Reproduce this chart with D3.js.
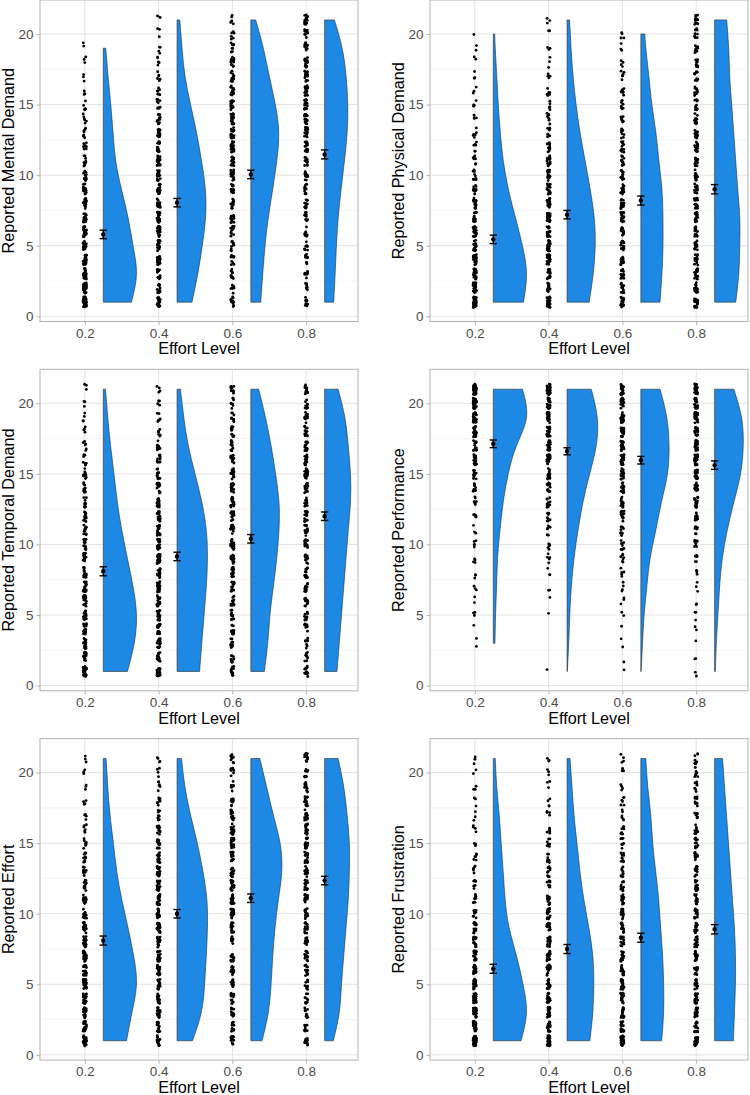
<!DOCTYPE html>
<html><head><meta charset="utf-8">
<script src="https://cdn.jsdelivr.net/npm/d3@7"></script>
<style>body{margin:0;background:#fff}svg{display:block}</style>
</head><body>
<svg id="c" width="750" height="1095"></svg>
<script>
// ---------- categories / ticks ----------
const levels = [0.2, 0.4, 0.6, 0.8];
const ratings = [1,2,3,4,5,6,7,8,9,10,11,12,13,14,15,16,17,18,19,20,21];
const violinGrid = [1,3,5,7,9,11,13,15,17,19,21];
const xTicks = [0.2, 0.4, 0.6, 0.8];
const xTickLabels = ["0.2", "0.4", "0.6", "0.8"];
const yTicks = [0, 5, 10, 15, 20];
const yMinor = [2.5, 7.5, 12.5, 17.5];
const xTitle = "Effort Level";
const yTitles = ["Reported Mental Demand", "Reported Physical Demand", "Reported Temporal Demand",
                 "Reported Performance", "Reported Effort", "Reported Frustration"];

// ---------- counts of ratings 1..21 per effort level ----------
const mentalCounts = [
  [45,28,28,24,22,21,18,16,14,12,9,9,8,6,6,4,3,3,2,0,0],
  [18,14,15,18,20,21,21,21,21,20,18,16,15,12,10,8,6,5,4,3,3],
  [12,8,9,9,10,12,14,15,16,18,20,21,21,20,18,16,14,12,9,6,6],
  [10,8,8,9,9,9,10,12,12,14,15,16,16,18,18,16,16,15,14,10,14]];
const physicalCounts = [
  [42,26,26,24,22,20,16,14,12,9,8,6,6,4,4,3,3,2,2,1,0],
  [27,18,20,21,21,21,20,18,16,15,14,12,9,8,6,6,4,3,3,2,3],
  [22,15,15,16,16,16,16,16,15,15,14,12,10,9,8,8,6,4,3,4,0],
  [24,16,18,18,18,18,18,18,16,16,15,15,14,14,12,12,10,10,10,9,14]];
const temporalCounts = [
  [26,18,20,21,21,21,20,18,16,15,14,12,10,10,9,8,6,4,4,3,3],
  [22,15,16,18,18,20,20,20,21,20,20,18,16,15,12,10,9,8,6,4,4],
  [14,10,10,12,12,14,15,15,16,18,18,18,18,18,16,15,14,12,9,8,9],
  [12,9,9,10,10,12,12,14,14,15,15,16,16,18,18,16,15,14,12,10,14]];
const performanceCounts = [
  [0,0,2,1,3,2,3,3,4,5,3,5,8,9,10,15,18,24,30,33,45],
  [1,0,0,0,1,1,2,3,5,6,7,9,12,14,16,20,21,22,22,22,30],
  [1,1,2,1,2,3,4,5,7,9,10,14,15,18,20,21,21,21,20,18,24],
  [2,2,1,2,3,2,3,4,6,8,9,12,15,16,20,21,21,21,20,20,24]];
const effortCounts = [
  [26,18,20,21,22,21,21,20,18,15,14,12,10,9,8,6,4,4,3,3,3],
  [16,14,16,18,18,18,18,20,20,20,20,18,16,15,14,12,9,8,6,4,4],
  [12,10,12,14,14,14,14,15,15,16,18,20,20,20,20,18,15,12,9,8,9],
  [9,9,9,10,10,12,12,14,14,15,15,16,16,16,16,16,15,14,12,10,14]];
const frustrationCounts = [
  [39,26,26,24,22,20,18,15,14,10,9,8,6,6,4,4,3,3,3,2,3],
  [30,18,20,20,21,20,18,16,15,14,12,10,9,9,8,6,4,4,3,3,3],
  [26,16,18,18,18,18,16,16,15,15,14,12,10,10,9,8,6,6,4,4,4],
  [22,15,15,16,16,15,15,15,15,15,14,14,12,12,10,10,9,9,8,8,9]];

// ---------- violin density (relative) at ratings 1,3,...,21 ----------
const mentalViolin = [
  [28.2,33.2,29.8,24.8,18.2,12.5,9.8,7.5,4.8,2.5,1.0],
  [14.9,20.7,25.2,28.5,28.3,24.5,19.5,13.5,8,5,2.7],
  [9.9,11.9,14.2,17.5,21.9,25.9,27.9,24.5,18.5,12.5,4.9],
  [9.1,10.5,11.8,13.6,16.5,19.8,22.5,23.1,21.5,17.5,9.8]];
const physicalViolin = [
  [30,33,29,22,15,10,7,5,3.5,2,1.0],
  [22,26,28,27,23,18,13,9,6,4,2.5],
  [19,21,22,22,21,18,15,11,8,5,3],
  [21,24,25,25,23,21,19,17,15,14,12]];
const temporalViolin = [
  [21.5,27.5,29.5,26.5,21.5,16.5,12.5,9.5,6.5,4,2],
  [20,22,24,26,27,26,22,16,10,6,3],
  [12,15,17,20,23,25,25,22,18,13,7],
  [11,13,15,17,19,21,23,23,21,18,12]];
const performanceViolin = [
  [1.5,1.7,2.3,3.3,4.3,6.7,10,15,23.3,33.3,29.3],
  [0.3,1.7,2.7,4.3,7,11,16,22.7,29.3,30.3,24.3],
  [0.3,1.7,3.3,6,9.3,15,20.7,26.7,28.3,26,19.3],
  [0.7,1.7,3.3,5,7.7,12.7,19.3,26,28.7,27,19.3]];
const effortViolin = [
  [20.7,25.5,29.5,27,22,16.5,12,9,6,4,2.5],
  [13.7,21.5,24.5,26,27,26.5,23,18,12,7,4],
  [10,15.5,18,19.5,21.5,24.5,27.5,26,20,14,8],
  [7.7,13,15,17,19,21,22,22,20,17,12]];
const frustrationViolin = [
  [28,33.5,30,23.5,16,12,10,8,6,3.5,2],
  [23,26,27,26,22,17,13,10,7,5,3],
  [21,23,23,22,20,18,15,12,10,7,5],
  [19,20,21,21,20,18,16,14,12,10,8]];

// ---------- violin ranges (min, max rating) ----------
const mentalRange = [[1,19],[1,21],[1,21],[1,21]];
const physicalRange = [[1,20],[1,21],[1,20],[1,21]];
const temporalRange = [[1,21],[1,21],[1,21],[1,21]];
const performanceRange = [[3,21],[1,21],[1,21],[1,21]];
const effortRange = [[1,21],[1,21],[1,21],[1,21]];
const frustrationRange = [[1,21],[1,21],[1,21],[1,21]];

// ---------- means and standard errors ----------
const mentalMean = [5.8, 8.05, 10.05, 11.47];
const physicalMean = [5.45, 7.2, 8.2, 9.0];
const temporalMean = [8.1, 9.15, 10.4, 12.0];
const performanceMean = [17.13, 16.6, 15.97, 15.62];
const effortMean = [8.1, 10.0, 11.1, 12.35];
const frustrationMean = [6.1, 7.5, 8.3, 8.9];
const mentalSE = [0.3, 0.3, 0.3, 0.32];
const physicalSE = [0.3, 0.3, 0.32, 0.33];
const temporalSE = [0.32, 0.3, 0.3, 0.3];
const performanceSE = [0.27, 0.25, 0.27, 0.3];
const effortSE = [0.32, 0.3, 0.3, 0.3];
const frustrationSE = [0.32, 0.32, 0.32, 0.33];

const panels = [
  {counts: mentalCounts, violin: mentalViolin, range: mentalRange, mean: mentalMean, se: mentalSE},
  {counts: physicalCounts, violin: physicalViolin, range: physicalRange, mean: physicalMean, se: physicalSE},
  {counts: temporalCounts, violin: temporalViolin, range: temporalRange, mean: temporalMean, se: temporalSE},
  {counts: performanceCounts, violin: performanceViolin, range: performanceRange, mean: performanceMean, se: performanceSE},
  {counts: effortCounts, violin: effortViolin, range: effortRange, mean: effortMean, se: effortSE},
  {counts: frustrationCounts, violin: frustrationViolin, range: frustrationRange, mean: frustrationMean, se: frustrationSE}
].map((p, i) => Object.assign(p, {title: yTitles[i]}));

// ---------- layout ----------
const colLeft = [40, 430];
const rowTop = [0, 369.3, 738.6];
const pw = 318, ph = 321.5;
const font = "'Liberation Sans', Arial, Helvetica, sans-serif";
const nudge = 0.05, halfWidth = 0.09, jitterW = 0.0045, jitterH = 0.38;
// deterministic hash used only to spread the jittered dots (display offset, not data)
const hash = v => { const s = Math.sin(v * 12.9898 + 78.233) * 43758.5453; return s - Math.floor(s); };

const svg = d3.select("#c");
svg.append("rect").attr("width", 750).attr("height", 1095).attr("fill", "#fff");

panels.forEach((p, i) => {
  const col = i % 2, row = Math.floor(i / 2);
  const g = svg.append("g").attr("transform", `translate(${colLeft[col]},${rowTop[row]})`);
  const x = d3.scaleLinear().domain([0.0785, 0.9405]).range([0, pw]);
  const y = d3.scaleLinear().domain([-0.37, 22.41]).range([ph, 0]);

  // grid
  g.append("g").selectAll("line").data(yMinor).join("line")
    .attr("x1", 0).attr("x2", pw).attr("y1", d => y(d)).attr("y2", d => y(d))
    .attr("stroke", "#EFEFEF").attr("stroke-width", 0.7);
  g.append("g").selectAll("line").data(yTicks).join("line")
    .attr("x1", 0).attr("x2", pw).attr("y1", d => y(d)).attr("y2", d => y(d))
    .attr("stroke", "#E3E3E3").attr("stroke-width", 1);
  g.append("g").selectAll("line").data(xTicks).join("line")
    .attr("y1", 0).attr("y2", ph).attr("x1", d => x(d)).attr("x2", d => x(d))
    .attr("stroke", "#E3E3E3").attr("stroke-width", 1);

  // jittered points
  const pts = [];
  let k = i * 5000;
  levels.forEach((lv, gi) => {
    p.counts[gi].forEach((c, ri) => {
      for (let j = 0; j < c; j++) {
        k++;
        pts.push({x: lv + (hash(k) - 0.5) * 2 * jitterW,
                  y: ratings[ri] + (hash(k + 0.5) - 0.5) * 2 * jitterH});
      }
    });
  });
  g.append("g").selectAll("circle").data(pts).join("circle")
    .attr("cx", d => x(d.x)).attr("cy", d => y(d.y)).attr("r", 1.4).attr("fill", "#000");

  // violins (area-scaled: widest density in panel -> full half width)
  const panelMax = d3.max(p.violin.map((v, gi) => {
    const [lo, hi] = p.range[gi];
    return d3.max(v.filter((d, j) => violinGrid[j] >= lo && violinGrid[j] <= hi));
  }));
  levels.forEach((lv, gi) => {
    const [lo, hi] = p.range[gi];
    const dens = d3.scaleLinear().domain(violinGrid).range(p.violin[gi]);
    const rs = [lo, ...violinGrid.filter(r => r > lo && r < hi), hi];
    const data = rs.map(r => ({r, d: dens(r)}));
    const base = lv + nudge;
    const area = d3.area()
      .y(d => y(d.r))
      .x0(() => x(base))
      .x1(d => x(base + d.d / panelMax * halfWidth))
      .curve(d3.curveNatural);
    g.append("path").attr("d", area(data))
      .attr("fill", "#1E88E5").attr("stroke", "#2b2b2b").attr("stroke-width", 0.6);
  });

  // mean +/- se
  levels.forEach((lv, gi) => {
    const cx = x(lv + nudge), m = p.mean[gi], s = p.se[gi];
    const eg = g.append("g").attr("stroke", "#000").attr("stroke-width", 1.4);
    eg.append("line").attr("x1", cx).attr("x2", cx).attr("y1", y(m - s)).attr("y2", y(m + s));
    eg.append("line").attr("x1", x(lv + nudge - 0.01)).attr("x2", x(lv + nudge + 0.01))
      .attr("y1", y(m - s)).attr("y2", y(m - s));
    eg.append("line").attr("x1", x(lv + nudge - 0.01)).attr("x2", x(lv + nudge + 0.01))
      .attr("y1", y(m + s)).attr("y2", y(m + s));
    g.append("circle").attr("cx", cx).attr("cy", y(m)).attr("r", 2.2).attr("fill", "#000");
  });

  // border
  g.append("rect").attr("x", 0).attr("y", 0).attr("width", pw).attr("height", ph)
    .attr("fill", "none").attr("stroke", "#B3B3B3").attr("stroke-width", 1);

  // axes
  const ax = g.append("g").attr("transform", `translate(0,${ph})`)
    .call(d3.axisBottom(x).tickValues(xTicks).tickFormat((d, j) => xTickLabels[j]).tickSize(3.6).tickPadding(3.2));
  const ay = g.append("g")
    .call(d3.axisLeft(y).tickValues(yTicks).tickSize(3.6).tickPadding(2.9));
  [ax, ay].forEach(a => {
    a.select(".domain").remove();
    a.selectAll(".tick line").attr("stroke", "#B3B3B3").attr("stroke-width", 1);
    a.selectAll(".tick text").attr("fill", "#4D4D4D").style("font-family", font).style("font-size", "13.5px");
  });

  // titles
  g.append("text").attr("x", pw / 2).attr("y", ph + 32.8).attr("text-anchor", "middle")
    .style("font-family", font).style("font-size", "16.2px").attr("fill", "#000").text(xTitle);
  g.append("text").attr("transform", `translate(-26.5,${ph / 2}) rotate(-90)`).attr("text-anchor", "middle")
    .style("font-family", font).style("font-size", "16.2px").attr("fill", "#000").text(p.title);
});
</script>
</body></html>
